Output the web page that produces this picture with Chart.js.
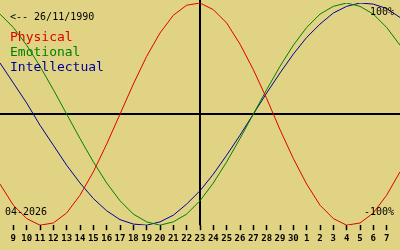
<!DOCTYPE html>
<html>
<head>
<meta charset="utf-8">
<script src="https://cdn.jsdelivr.net/npm/chart.js@4/dist/chart.umd.min.js"></script>
<style>
html,body{margin:0;padding:0;background:#e0d384;}
#wrap{width:400px;height:250px;position:relative;}
</style>
</head>
<body>
<div id="wrap"><canvas id="c" width="400" height="250"></canvas></div>
<script>
// Day labels (8 April 2026 .. 8 May 2026), index 0..30
const dayLabels = ['8','9','10','11','12','13','14','15','16','17','18','19','20','21','22','23','24','25','26','27','28','29','30','1','2','3','4','5','6','7','8'];
// Biorhythm values in percent
const physical     = [-63,-82,-94,-100,-98,-89,-73,-52,-27,0,27,52,73,89,98,100,94,82,63,40,14,-14,-40,-63,-82,-94,-100,-98,-89,-73,-52];
const emotional    = [90,78,62,43,22,0,-22,-43,-62,-78,-90,-97,-100,-97,-90,-78,-62,-43,-22,0,22,43,62,78,90,97,100,97,90,78,62];
const intellectual = [46,28,10,-10,-28,-46,-62,-76,-87,-95,-99,-100,-97,-91,-81,-69,-54,-37,-19,0,19,37,54,69,81,91,97,100,99,95,87];
const todayIndex = 15;
const birthText = '<-- 26/11/1990';
const monthText = '04-2026';
const seriesNames = ['Physical','Emotional','Intellectual'];
const seriesColors = ['#dd0000','#008000','#000099'];

const toXY = arr => arr.map((y,i)=>({x:i,y:y}));

const overlay = {
  id:'overlay',
  beforeDatasetsDraw(chart){
    const {ctx, chartArea:a, scales:{x,y}} = chart;
    ctx.save();
    ctx.strokeStyle = '#000';
    ctx.lineWidth = 2;
    const y0 = Math.round(y.getPixelForValue(0));
    ctx.beginPath(); ctx.moveTo(a.left,y0); ctx.lineTo(a.right,y0); ctx.stroke();
    const xt = Math.round(x.getPixelForValue(todayIndex));
    ctx.beginPath(); ctx.moveTo(xt,0); ctx.lineTo(xt,a.bottom); ctx.stroke();
    ctx.restore();
  },
  afterDatasetsDraw(chart){
    const {ctx} = chart;
    ctx.save();
    ctx.textBaseline = 'middle';
    ctx.font = '10px "DejaVu Sans Mono"';
    ctx.fillStyle = '#000';
    ctx.textAlign = 'left';
    ctx.fillText(birthText, 10, 17);
    ctx.fillText(monthText, 5, 212);
    ctx.textAlign = 'right';
    ctx.fillText('100%', 394, 12);
    ctx.fillText('-100%', 394, 212);
    ctx.textAlign = 'left';
    ctx.font = '13px "DejaVu Sans Mono"';
    seriesNames.forEach((n,i)=>{
      ctx.fillStyle = seriesColors[i];
      ctx.fillText(n, 10, 38 + i*15);
    });
    ctx.restore();
  }
};

new Chart(document.getElementById('c'), {
  type:'line',
  data:{
    datasets:[
      {label:seriesNames[0], data:toXY(physical), borderColor:seriesColors[0], borderWidth:1, pointRadius:0, tension:0},
      {label:seriesNames[1], data:toXY(emotional), borderColor:seriesColors[1], borderWidth:1, pointRadius:0, tension:0},
      {label:seriesNames[2], data:toXY(intellectual), borderColor:seriesColors[2], borderWidth:1, pointRadius:0, tension:0}
    ]
  },
  options:{
    responsive:false,
    animation:false,
    layout:{padding:{top:3,bottom:3,left:0,right:0}},
    plugins:{legend:{display:false},tooltip:{enabled:false}},
    scales:{
      x:{
        type:'linear', min:0, max:dayLabels.length-1,
        border:{display:false},
        grid:{drawOnChartArea:false, drawTicks:true, tickLength:5, tickColor:'#000', tickWidth:1.5},
        ticks:{
          stepSize:1, autoSkip:false, maxRotation:0, padding:3, color:'#000',
          font:{family:'"DejaVu Sans Mono"', size:9, weight:'bold'},
          callback:(v)=> (v<=0 || v>=dayLabels.length-1) ? null : dayLabels[v]
        }
      },
      y:{type:'linear', min:-100, max:100, display:false}
    }
  },
  plugins:[overlay]
});
</script>
</body>
</html>
